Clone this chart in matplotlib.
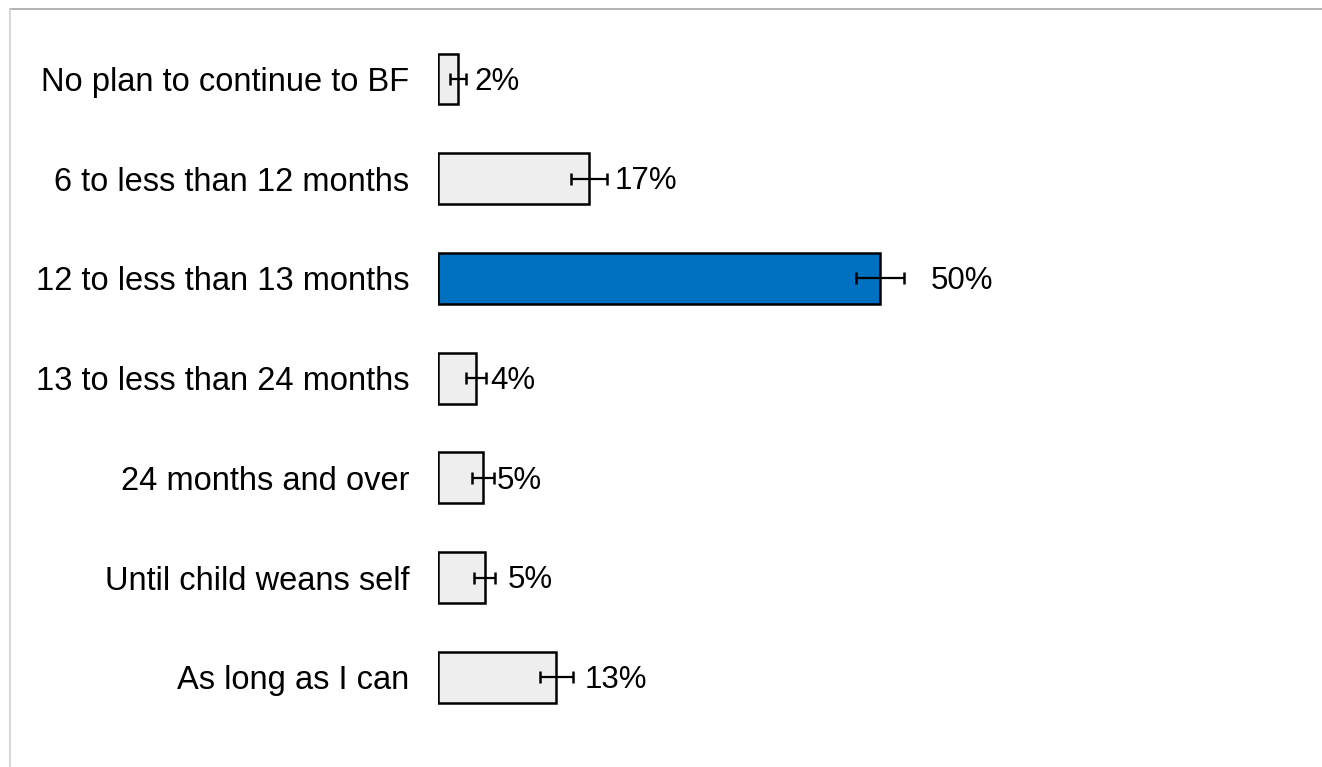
import matplotlib
matplotlib.use("Agg")
import matplotlib.pyplot as plt
from matplotlib.lines import Line2D

plt.rcParams['font.family'] = ['Liberation Sans', 'DejaVu Sans']

categories = ["No plan to continue to BF", "6 to less than 12 months",
              "12 to less than 13 months", "13 to less than 24 months",
              "24 months and over", "Until child weans self", "As long as I can"]
values = [2.3, 17.1, 50.0, 4.3, 5.1, 5.3, 13.4]
errors = [0.9, 2.0, 2.7, 1.1, 1.2, 1.2, 1.9]
labels = ["2%", "17%", "50%", "4%", "5%", "5%", "13%"]
highlight = "12 to less than 13 months"
label_pad_pt = [5.5, 5.5, 19.5, 3, 2, 8.5, 8]

W, H = 1322, 767
fig = plt.figure(figsize=(W / 100, H / 100), dpi=100)
ax = fig.add_axes([438 / W, 0, 884 / W, 1])

ypos = list(range(len(categories)))
colors = ["#0070C0" if c == highlight else "#EEEEEE" for c in categories]
ax.barh(ypos, values, height=0.51, color=colors, edgecolor="black", linewidth=1.8)
ax.errorbar(values, ypos, xerr=errors, fmt="none", ecolor="black",
            elinewidth=1.6, capsize=4.3, capthick=1.8)
for y, v, e, lab, p in zip(ypos, values, errors, labels, label_pad_pt):
    ax.annotate(lab, xy=(v + e, y), xytext=(p, -2), textcoords="offset points",
                ha="left", va="center", fontsize=22.5)

ax.set_xlim(0, 100)
ax.set_ylim(6.90, -0.792)
ax.set_yticks(ypos)
ax.set_yticklabels(categories, fontsize=23.5)
ax.tick_params(axis="y", length=0, pad=20.5)
ax.set_xticks([])
for s in ax.spines.values():
    s.set_visible(False)

fig.add_artist(Line2D([10 / W, 1], [1 - 9 / H, 1 - 9 / H], color="#A6A6A6", lw=1.2))
fig.add_artist(Line2D([10 / W, 10 / W], [0, 1 - 9 / H], color="#D0D0D0", lw=1.2))

fig.savefig("out.png", dpi=100)
